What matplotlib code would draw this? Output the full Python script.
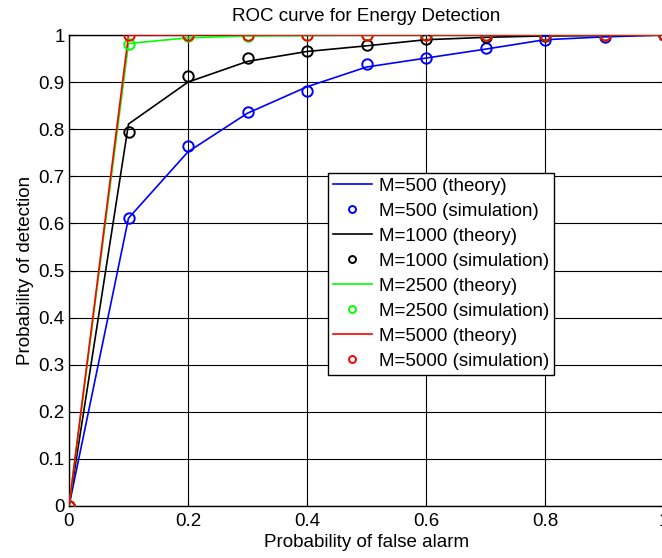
import matplotlib
matplotlib.use('Agg')
import matplotlib.pyplot as plt
from matplotlib.lines import Line2D

plt.rcParams['font.family'] = ['Liberation Sans', 'DejaVu Sans']
plt.rcParams['font.size'] = 13.5

# dati
pfa = [0, 0.1, 0.2, 0.3, 0.4, 0.5, 0.6, 0.7, 0.8, 0.9, 1.0]

pd_500_teo = [0, 0.611, 0.752, 0.834, 0.890, 0.932, 0.951, 0.970, 0.990, 0.996, 1.0]
pd_500_sim = [0, 0.611, 0.765, 0.836, 0.882, 0.939, 0.951, 0.973, 0.990, 0.995, 1.0]

pd_1000_teo = [0, 0.811, 0.900, 0.944, 0.965, 0.977, 0.990, 0.995, 0.998, 0.999, 1.0]
pd_1000_sim = [0, 0.794, 0.913, 0.951, 0.966, 0.979, 0.991, 0.995, 0.998, 0.999, 1.0]

pd_2500_teo = [0, 0.982, 0.994, 0.998, 0.999, 1.0, 1.0, 1.0, 1.0, 1.0, 1.0]
pd_2500_sim = [0, 0.981, 0.998, 0.998, 1.0, 1.0, 1.0, 1.0, 1.0, 1.0, 1.0]

pd_5000_teo = [0, 1.0, 1.0, 1.0, 1.0, 1.0, 1.0, 1.0, 1.0, 1.0, 1.0]
pd_5000_sim = [0, 1.0, 1.0, 1.0, 1.0, 1.0, 1.0, 1.0, 1.0, 1.0, 1.0]

etichette = ['M=500', 'M=1000', 'M=2500', 'M=5000']
colori = ['#0000ff', '#000000', '#00ff00', '#ff0000']
serie_teo = [pd_500_teo, pd_1000_teo, pd_2500_teo, pd_5000_teo]
serie_sim = [pd_500_sim, pd_1000_sim, pd_2500_sim, pd_5000_sim]

fig = plt.figure(figsize=(6.62, 5.58), dpi=100)
ax = fig.add_axes([69 / 662, 52 / 558, 595 / 662, 471 / 558])

maniglie = []
for lab, col, teo, sim in zip(etichette, colori, serie_teo, serie_sim):
    ax.plot(pfa, teo, color=col, lw=1.2, zorder=3)
    ax.plot(pfa, sim, ls='none', marker='o', ms=7.5, mfc='none', mec=col, mew=1.4, zorder=4)
    maniglie.append(Line2D([], [], color=col, lw=1.2, label=f'{lab} (theory)'))
    maniglie.append(Line2D([], [], ls='none', marker='o', ms=5, mfc='none', mec=col,
                           mew=1.4, label=f'{lab} (simulation)'))

ax.set_xlim(0, 1)
ax.set_ylim(0, 1)
ax.set_xticks([0, 0.2, 0.4, 0.6, 0.8, 1.0])
ax.set_xticklabels(['0', '0.2', '0.4', '0.6', '0.8', '1'])
ax.set_yticks([i / 10 for i in range(11)])
ax.set_yticklabels(['0'] + [f'0.{i}' for i in range(1, 10)] + ['1'])
ax.tick_params(direction='in', length=4, width=0.8, top=True, right=True, pad=3)
ax.tick_params(axis='x', pad=5)
ax.grid(True, color='black', lw=0.8)
ax.set_axisbelow(True)
for s in ax.spines.values():
    s.set_linewidth(1.0)

ax.set_title('ROC curve for Energy Detection', fontsize=13.5, pad=10)
ax.set_xlabel('Probability of false alarm', labelpad=3)
ax.set_ylabel('Probability of detection', labelpad=3)

leg = ax.legend(handles=maniglie, loc='upper left', bbox_to_anchor=(328 / 662, 385 / 558),
                bbox_transform=fig.transFigure, fancybox=False, framealpha=1,
                edgecolor='black', handlelength=2.08, handletextpad=0.4,
                labelspacing=0.42, borderpad=0.25, borderaxespad=0, fontsize=13.5)
leg.get_frame().set_linewidth(1.0)

fig.savefig('out.png', dpi=100)
